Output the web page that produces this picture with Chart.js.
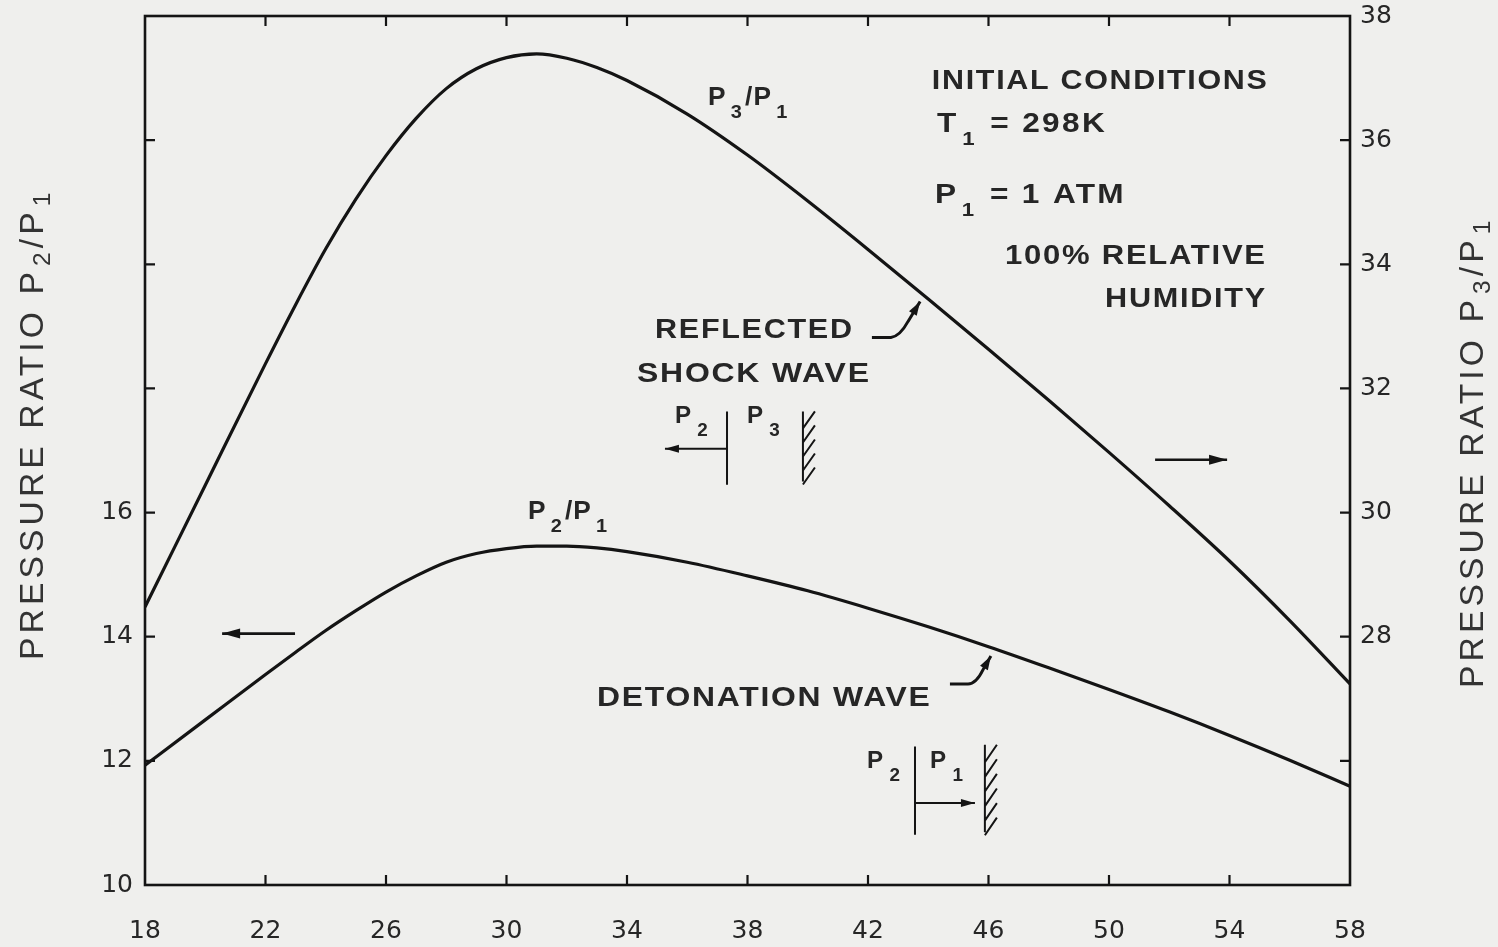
<!DOCTYPE html>
<html>
<head>
<meta charset="utf-8">
<script src="https://cdn.jsdelivr.net/npm/chart.js@4.4.1/dist/chart.umd.min.js"></script>
<style>
  html, body { margin: 0; padding: 0; background: #efefed; }
  canvas { display: block; }
</style>
</head>
<body>
<canvas id="chart" width="1498" height="947"></canvas>
<script>
// Concentration values along the horizontal axis
const concentration = [18, 20, 22, 23, 24, 25, 26, 27, 28, 29, 30, 31, 32, 33, 34, 36, 38, 40, 42, 44, 46, 48, 50, 52, 54, 56, 58];
// Detonation wave: P2/P1 (left axis)
const detonationP2P1 = [11.93, 12.66, 13.39, 13.75, 14.10, 14.42, 14.72, 14.98, 15.20, 15.34, 15.42, 15.46, 15.46, 15.43, 15.37, 15.20, 14.98, 14.74, 14.46, 14.16, 13.84, 13.50, 13.15, 12.79, 12.41, 12.01, 11.59];
// Reflected shock wave: P3/P1 (right axis)
const reflectedP3P1 = [28.48, 30.44, 32.40, 33.35, 34.25, 35.05, 35.75, 36.35, 36.83, 37.15, 37.33, 37.39, 37.32, 37.17, 36.96, 36.42, 35.76, 35.02, 34.24, 33.44, 32.63, 31.81, 30.97, 30.11, 29.22, 28.26, 27.24];

// Axis ranges and labelled ticks
const xTicks = [18, 22, 26, 30, 34, 38, 42, 46, 50, 54, 58];
const leftTickLabels = [10, 12, 14, 16];
const rightTickLabels = [28, 30, 32, 34, 36, 38];

const PAPER = '#efefed';
const INK = '#141414';
const TEXT = '#262626';
const LABEL_FONT = '"Liberation Sans", Arial, sans-serif';

function head(ctx, fx, fy, tx, ty, len = 15, half = 4.5) {
  const a = Math.atan2(ty - fy, tx - fx);
  ctx.beginPath();
  ctx.moveTo(tx, ty);
  ctx.lineTo(tx - len * Math.cos(a) + half * Math.sin(a), ty - len * Math.sin(a) - half * Math.cos(a));
  ctx.lineTo(tx - len * Math.cos(a) - half * Math.sin(a), ty - len * Math.sin(a) + half * Math.cos(a));
  ctx.closePath();
  ctx.fill();
}
function arrow(ctx, x1, y1, x2, y2, len = 15, half = 4.5) {
  ctx.beginPath();
  ctx.moveTo(x1, y1);
  ctx.lineTo(x2, y2);
  ctx.stroke();
  head(ctx, x1, y1, x2, y2, len, half);
}

// Text widened (light tracking + horizontal stretch) to span a given width
function fitText(ctx, str, x, y, width, font, tracking = 1.5) {
  ctx.save();
  ctx.font = font;
  ctx.letterSpacing = tracking + 'px';
  ctx.textAlign = 'left';
  const w = ctx.measureText(str).width - tracking;
  ctx.translate(x, y);
  ctx.scale(width / w, 1);
  ctx.fillText(str, 0, 0);
  ctx.restore();
}

// Text with subscripts: parts = [[text, isSub], ...]
function richText(ctx, parts, x, y, o) {
  ctx.save();
  ctx.translate(x, y);
  ctx.scale(o.stretch || 1, 1);
  let cx = 0;
  ctx.textAlign = 'left';
  for (const [t, sub] of parts) {
    ctx.font = `${o.weight} ${sub ? o.subSize : o.size}px ${o.family}`;
    ctx.letterSpacing = (o.spacing || 0) + 'px';
    ctx.fillText(t, cx, sub ? o.drop : 0);
    cx += ctx.measureText(t).width + (sub ? o.gapAfterSub || 0 : o.gap || 0);
  }
  ctx.restore();
}

function wall(ctx, x, yTop, yBot, n) {
  ctx.beginPath();
  ctx.moveTo(x, yTop);
  ctx.lineTo(x, yBot);
  const step = (yBot - yTop) / n;
  for (let i = 0; i < n; i++) {
    const y = yTop + i * step;
    ctx.moveTo(x, y + step + 3);
    ctx.lineTo(x + 12, y);
  }
  ctx.stroke();
}

// keep tick labels from pushing the plot area inward
function noOverflow(s) {
  s.paddingTop = 0; s.paddingBottom = 0; s.paddingLeft = 0; s.paddingRight = 0;
}

const figurePlugin = {
  id: 'figure',
  beforeDraw(chart) {
    const { ctx, width, height } = chart;
    ctx.save();
    ctx.fillStyle = PAPER;
    ctx.fillRect(0, 0, width, height);
    ctx.restore();
  },
  afterDraw(chart) {
    const { ctx, chartArea: ca, scales } = chart;
    const sx = scales.x, sy = scales.y, sy1 = scales.y1;
    const X = v => sx.getPixelForValue(v);
    const Y = v => sy.getPixelForValue(v);

    ctx.save();
    ctx.strokeStyle = INK;
    ctx.fillStyle = INK;

    // frame
    ctx.lineWidth = 2.6;
    ctx.strokeRect(ca.left, ca.top, ca.right - ca.left, ca.bottom - ca.top);

    // inward tick marks
    const T = 10;
    ctx.lineWidth = 2.2;
    ctx.beginPath();
    sx.ticks.forEach(t => {
      if (t.value <= sx.min || t.value >= sx.max) return;
      const p = X(t.value);
      ctx.moveTo(p, ca.bottom); ctx.lineTo(p, ca.bottom - T);
      ctx.moveTo(p, ca.top); ctx.lineTo(p, ca.top + T);
    });
    sy.ticks.forEach(t => {
      if (t.value <= sy.min || t.value >= sy.max) return;
      const p = Y(t.value);
      ctx.moveTo(ca.left, p); ctx.lineTo(ca.left + T, p);
    });
    sy1.ticks.forEach(t => {
      if (t.value <= sy1.min || t.value >= sy1.max) return;
      const p = sy1.getPixelForValue(t.value);
      ctx.moveTo(ca.right, p); ctx.lineTo(ca.right - T, p);
    });
    ctx.stroke();

    // axis titles
    ctx.fillStyle = '#333';
    const titleOpt = { weight: 'normal', size: 33, subSize: 24, drop: 7, family: LABEL_FONT, spacing: 4, gap: 2, gapAfterSub: 0, stretch: 1.02 };
    ctx.save();
    ctx.translate(43, 660);
    ctx.rotate(-Math.PI / 2);
    richText(ctx, [['PRESSURE RATIO P', false], ['2', true], ['/P', false], ['1', true]], 0, 0, titleOpt);
    ctx.restore();
    ctx.save();
    ctx.translate(1483, 688);
    ctx.rotate(-Math.PI / 2);
    richText(ctx, [['PRESSURE RATIO P', false], ['3', true], ['/P', false], ['1', true]], 0, 0, titleOpt);
    ctx.restore();

    // annotations
    ctx.fillStyle = TEXT;
    const bold = `bold 27px ${LABEL_FONT}`;
    fitText(ctx, 'INITIAL CONDITIONS', X(44.12), Y(22.82), 335, bold);
    const subOpt = { weight: 'bold', size: 27, subSize: 19, drop: 13, family: LABEL_FONT, spacing: 2, gap: 3, gapAfterSub: 2, stretch: 1.17 };
    richText(ctx, [['T', false], ['1', true], [' = 298K', false]], X(44.29), Y(22.13), subOpt);
    richText(ctx, [['P', false], ['1', true], [' = 1 ATM', false]], X(44.22), Y(20.98), subOpt);
    fitText(ctx, '100% RELATIVE', X(46.55), Y(20.0), 260, bold);
    fitText(ctx, 'HUMIDITY', X(49.87), Y(19.31), 160, bold);
    fitText(ctx, 'REFLECTED', X(34.93), Y(18.82), 197, bold);
    fitText(ctx, 'SHOCK WAVE', X(34.33), Y(18.10), 232, bold);
    fitText(ctx, 'DETONATION WAVE', X(33.0), Y(12.89), 333, bold);

    const pOpt = { weight: 'bold', size: 25, subSize: 19, drop: 13, family: LABEL_FONT, spacing: 1, gap: 4, gapAfterSub: 2, stretch: 1.05 };
    richText(ctx, [['P', false], ['3', true], ['/P', false], ['1', true]], X(36.69), Y(22.56), pOpt);
    richText(ctx, [['P', false], ['2', true], ['/P', false], ['1', true]], X(30.71), Y(15.89), pOpt);

    const dOpt = { weight: 'bold', size: 23, subSize: 18, drop: 13, family: LABEL_FONT, spacing: 1, gap: 5, gapAfterSub: 0, stretch: 1.05 };
    // reflected shock sketch
    richText(ctx, [['P', false], ['2', true]], X(35.59), Y(17.44), dOpt);
    richText(ctx, [['P', false], ['3', true]], X(37.98), Y(17.44), dOpt);
    // detonation sketch
    richText(ctx, [['P', false], ['2', true]], X(41.97), Y(11.89), dOpt);
    richText(ctx, [['P', false], ['1', true]], X(44.06), Y(11.89), dOpt);

    ctx.strokeStyle = INK;
    ctx.fillStyle = INK;
    ctx.lineWidth = 2;
    ctx.beginPath();
    ctx.moveTo(X(37.32), Y(17.63)); ctx.lineTo(X(37.32), Y(16.45));
    ctx.moveTo(X(43.56), Y(12.23)); ctx.lineTo(X(43.56), Y(10.81));
    ctx.stroke();
    arrow(ctx, X(37.32), Y(17.03), X(35.26), Y(17.03), 14, 4);
    arrow(ctx, X(43.56), Y(11.32), X(45.55), Y(11.32), 14, 4);
    wall(ctx, X(39.84), Y(17.63), Y(16.50), 5);
    wall(ctx, X(45.88), Y(12.26), Y(10.85), 6);

    // axis pointer arrows
    ctx.lineWidth = 2.6;
    arrow(ctx, X(22.98), Y(14.05), X(20.56), Y(14.05), 18, 5);
    arrow(ctx, X(51.53), Y(16.85), X(53.92), Y(16.85), 18, 5);

    // leaders from labels to curves
    ctx.lineWidth = 3;
    ctx.beginPath();
    ctx.moveTo(X(42.13), Y(18.82));
    ctx.lineTo(X(42.76), Y(18.82));
    ctx.quadraticCurveTo(X(43.06), Y(18.84), X(43.33), Y(19.08));
    ctx.lineTo(X(43.73), Y(19.40));
    ctx.stroke();
    head(ctx, X(43.33), Y(19.08), X(43.73), Y(19.40), 14, 4.5);

    ctx.beginPath();
    ctx.moveTo(X(44.72), Y(13.24));
    ctx.lineTo(X(45.32), Y(13.24));
    ctx.quadraticCurveTo(X(45.59), Y(13.24), X(45.82), Y(13.47));
    ctx.lineTo(X(46.08), Y(13.69));
    ctx.stroke();
    head(ctx, X(45.82), Y(13.47), X(46.08), Y(13.69), 14, 4.5);

    ctx.restore();
  }
};

const tickFont = { family: '"DejaVu Sans", sans-serif', size: 25 };

new Chart(document.getElementById('chart'), {
  type: 'line',
  data: {
    datasets: [
      {
        label: 'P2/P1',
        data: concentration.map((c, i) => ({ x: c, y: detonationP2P1[i] })),
        yAxisID: 'y',
        borderColor: INK,
        borderWidth: 3.2,
        pointRadius: 0,
        cubicInterpolationMode: 'monotone',
        fill: false
      },
      {
        label: 'P3/P1',
        data: concentration.map((c, i) => ({ x: c, y: reflectedP3P1[i] })),
        yAxisID: 'y1',
        borderColor: INK,
        borderWidth: 3.2,
        pointRadius: 0,
        cubicInterpolationMode: 'monotone',
        fill: false
      }
    ]
  },
  options: {
    responsive: false,
    animation: false,
    events: [],
    layout: { padding: { top: 16, left: 0, right: 0, bottom: 0 } },
    plugins: { legend: { display: false }, tooltip: { enabled: false }, title: { display: false } },
    scales: {
      x: {
        type: 'linear',
        min: xTicks[0],
        max: xTicks[xTicks.length - 1],
        afterBuildTicks: s => { s.ticks = xTicks.map(v => ({ value: v })); },
        ticks: { font: tickFont, color: TEXT, padding: 31, maxRotation: 0, autoSkip: false },
        grid: { display: false, drawTicks: false },
        border: { display: false },
        afterFit: s => { s.height = 62; noOverflow(s); }
      },
      y: {
        type: 'linear',
        position: 'left',
        min: 10,
        max: 24,
        ticks: {
          stepSize: 2,
          font: tickFont,
          color: TEXT,
          padding: 12,
          callback: v => (leftTickLabels.includes(v) ? String(v) : '')
        },
        grid: { display: false, drawTicks: false },
        border: { display: false },
        afterFit: s => { s.width = 145; noOverflow(s); }
      },
      y1: {
        type: 'linear',
        position: 'right',
        min: 24,
        max: 38,
        ticks: {
          stepSize: 2,
          font: tickFont,
          color: TEXT,
          padding: 10,
          callback: v => (rightTickLabels.includes(v) ? String(v) : '')
        },
        grid: { display: false, drawTicks: false },
        border: { display: false },
        afterFit: s => { s.width = 148; noOverflow(s); }
      }
    }
  },
  plugins: [figurePlugin]
});
</script>
</body>
</html>
